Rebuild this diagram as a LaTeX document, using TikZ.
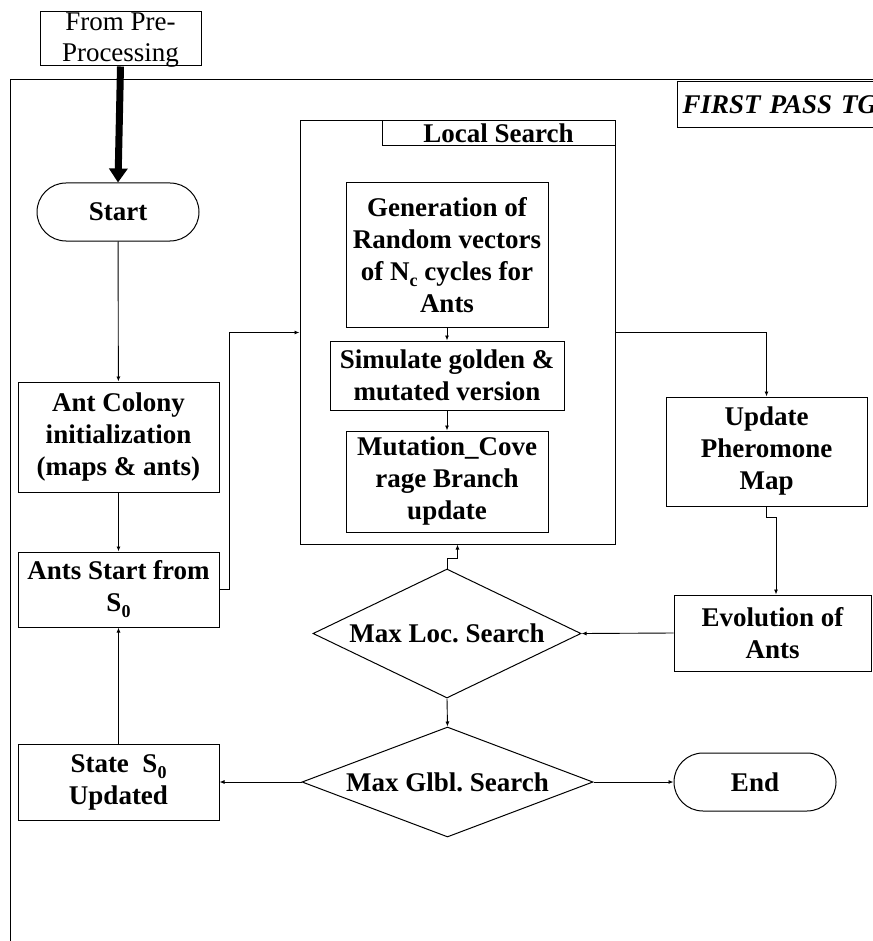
\documentclass[tikz,border=0pt]{standalone}
\usepackage{fontspec}
\setmainfont{Liberation Serif}
\usetikzlibrary{arrows.meta,shapes.geometric,calc}
\frenchspacing

% lowered, smaller index (S_0, N_c) in the running bold text
\newcommand\lowidx[1]{\raisebox{-0.22em}{\fontsize{18}{18}\selectfont #1}}

\begin{document}
\begin{tikzpicture}[x=1pt,y=-1pt,
  txt/.style={font=\bfseries\fontsize{27}{32}\selectfont},
  box/.style={draw, line width=1pt, inner sep=0pt, align=center, txt},
  term/.style={box, rounded corners=29pt},
  dec/.style={draw, line width=1pt, diamond, inner sep=0pt},
  flow/.style={line width=0.9pt, -{Latex[length=5pt,width=4pt]}},
  feed/.style={line width=7pt, -{Triangle[length=14pt,width=18pt]}},
]
\useasboundingbox (0,0) rectangle (872,941);

% surrounding frame of the pass
\draw[line width=1pt] (10,960) -- (10,80) -- (900,80);
\node[draw, line width=1pt, anchor=north west, minimum height=46pt, text width=230pt,
      align=left, inner xsep=5pt, inner ysep=0pt,
      font=\bfseries\itshape\fontsize{27}{32}\selectfont] (pass) at (677,81) {FIRST PASS TG};

% input from the previous stage
\node[draw, line width=1pt, minimum width=161pt, minimum height=54pt, inner sep=0pt,
      label={[align=center, font=\fontsize{27}{31}\selectfont, yshift=-1.5pt]center:From Pre-\\Processing}]
      (pre) at (120.5,39) {};

% left column
\node[term, minimum width=162pt, minimum height=58pt] (start) at (118,212) {Start};
\node[box, minimum width=201pt, minimum height=110pt] (colony) at (118.5,437)
  {Ant Colony\\initialization\\(maps \& ants)};
\node[box, minimum width=201pt, minimum height=75pt] (antsS) at (118.5,589.5)
  {Ants Start from\\S\lowidx{0}};
\node[box, minimum width=201pt, minimum height=76pt] (state) at (118.5,782)
  {State\ \ S\lowidx{0}\\Updated};

% local search block
\node[draw, line width=1pt, minimum width=315pt, minimum height=423pt, inner sep=0pt] (lsbox) at (457.5,332.5) {};
\node[box, minimum width=233pt, minimum height=25pt] (lshead) at (498.5,133.5) {Local Search};
\node[box, minimum width=202pt, minimum height=144pt] (gen) at (447,255)
  {Generation of\\Random vectors\\of N\lowidx{c} cycles for\\Ants};
\node[box, minimum width=234pt, minimum height=69pt] (sim) at (447,375.5)
  {Simulate golden \&\\mutated version};
\node[box, minimum width=202pt, minimum height=101pt] (mut) at (447,481.5)
  {Mutation\_Cove\\rage Branch\\update};

% right column
\node[box, minimum width=201pt, minimum height=109pt] (upd) at (766.5,451.5)
  {Update\\Pheromone\\Map};
\node[box, minimum width=197pt, minimum height=76pt] (evo) at (772.5,633)
  {Evolution of\\Ants};

% decisions and end
\node[dec, minimum width=268pt, minimum height=129pt,
      label={[txt]center:Max Loc. Search}] (loc) at (447,633.5) {};
\node[dec, minimum width=291pt, minimum height=110pt,
      label={[txt]center:Max Glbl. Search}] (glb) at (447.5,782) {};
\node[term, minimum width=162pt, minimum height=58pt] (endn) at (755,782) {End};

% connectors
\draw[feed] (pre.south) -- (start.north);
\draw[flow] (start) -- (colony);
\draw[flow] (colony) -- (antsS);
\draw[flow] (state) -- (antsS);
\draw[flow] (antsS.east) -- ++(10,0) |- (lsbox.west);
\draw[flow] (gen) -- (sim);
\draw[flow] (sim) -- (mut);
\draw[flow] (lsbox.east) -| (upd.north);
\draw[flow] (upd.south) -- ++(0,11) -| ([xshift=3.5pt]evo.north);
\draw[flow] (evo.west) -- (loc.east);
\draw[flow] (loc.north) -- ++(0,-10) -| (lsbox.south);
\draw[flow] (loc.south) -- (glb.north);
\draw[flow] (glb.west) -- (state.east);
\draw[flow] (glb.east) -- (endn.west);
\end{tikzpicture}
\end{document}
